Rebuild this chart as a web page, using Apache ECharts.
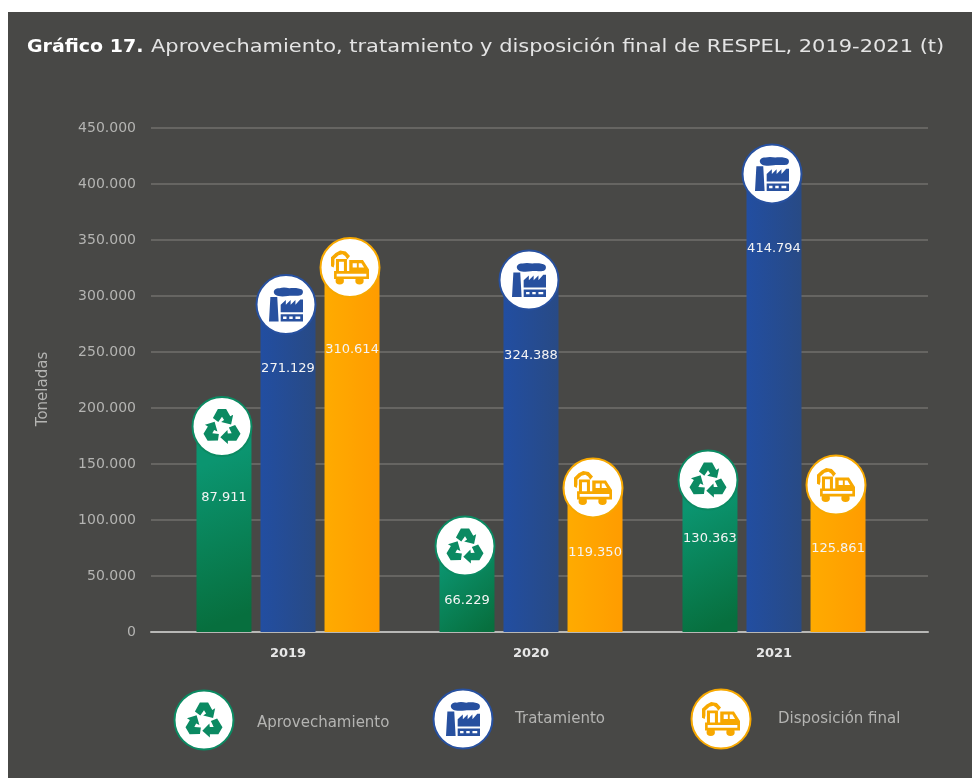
<!DOCTYPE html>
<html>
<head>
<meta charset="utf-8">
<title>RESPEL 2019-2021</title>
<script src="https://cdn.jsdelivr.net/npm/echarts@6/dist/echarts.min.js"></script>
<style>
  html, body { margin: 0; padding: 0; background: #fff; }
  #panel { position: absolute; left: 8px; top: 12px; width: 964px; height: 766px; background: #484846; }
  #main { position: absolute; left: 0; top: 0; width: 972px; height: 778px; }
</style>
</head>
<body>
<div id="panel"></div>
<div id="main"></div>
<script>
const years = ['2019', '2020', '2021']
const yTicks = [0, 50000, 100000, 150000, 200000, 250000, 300000, 350000, 400000, 450000]

// printed values
const aprovechamiento = [87911, 66229, 130363]
const tratamiento = [271129, 324388, 414794]
const disposicion = [310614, 119350, 125861]

// bar heights as drawn in the picture (they do not follow the printed values)
const aprovechamientoDrawn = [183500, 76800, 135700]
const tratamientoDrawn = [292300, 314300, 409000]
const disposicionDrawn = [325400, 128600, 131250]

const fmt = v => String(v).replace(/\B(?=(\d{3})+$)/g, '.')
const FONT = '"DejaVu Sans"'
const GREY = '#b4b4b2'

// icon shapes
function poly(pts) {
  return 'M' + pts.map(p => p[0].toFixed(1) + ' ' + p[1].toFixed(1)).join('L') + 'Z'
}
function rot(pts, deg) {
  const a = deg * Math.PI / 180
  return pts.map(p => [p[0] * Math.cos(a) - p[1] * Math.sin(a), p[0] * Math.sin(a) + p[1] * Math.cos(a)])
}
const arrow = [[-22, -24], [-10, -46], [10, -46], [20, -28], [27, -32], [22, -8], [-2, -14], [5, -19], [0, -27], [-9, -14]]
const recycleIcon = 'path://' + [0, 120, 240].map(d => poly(rot(arrow, d))).join('')
const factoryIcon = 'path://M15 12C15 4 24 0 32 1C40 -2 52 -1 60 1C72 -1 90 0 97 5C102 10 100 20 94 22C80 25 66 22 56 24C44 26 28 26 22 22C18 20 15 16 15 12Z' +
  'M5 27L25 27L29 100L1 100Z' +
  'M35 72L35 50L50 36L50 50L64 36L64 50L78 36L78 50L92 34L100 34L100 72Z' +
  'M35 78L100 78L100 100L35 100ZM42 85L42 92L52 92L52 85ZM60 85L60 92L70 92L70 85ZM78 85L78 92L92 92L92 85Z'
const truckIcon = 'path://M48 28L84 28L100 56L100 62L48 62ZM57 37L57 50L68 50L68 37ZM73 37L73 50L87 50L80 37Z' +
  'M8 60L100 60L100 84L8 84ZM15 68L15 76L93 76L93 68Z' +
  'M12 89A11 11 0 1 1 34 89A11 11 0 1 1 12 89ZM64 89A11 11 0 1 1 86 89A11 11 0 1 1 64 89Z' +
  'M0 20L12 7L24 0L39 3L50 16L43 26L37 16L30 11L20 14L9 25L9 40L7 50L0 46Z' +
  'M13 25L42 25L42 62L34 62L34 33L21 33L21 62L13 62Z'

const seriesDefs = [
  { name: 'Aprovechamiento', drawn: aprovechamientoDrawn, values: aprovechamiento, icon: recycleIcon, iconSize: [37, 35],
    border: '#0b8a62', c1: '#0b9570', c2: '#076f3e', grad: [0, 0.2, 1, 0.9], offset: -64, drops: [71, 55, 59] },
  { name: 'Tratamiento', drawn: tratamientoDrawn, values: tratamiento, icon: factoryIcon, iconSize: [34, 34],
    border: '#27509f', c1: '#224ea1', c2: '#284a85', grad: [0, 0, 1, 0], offset: 0, drops: [64, 76, 75] },
  { name: 'Disposición final', drawn: disposicionDrawn, values: disposicion, icon: truckIcon, iconSize: [38, 34],
    border: '#f7a800', c1: '#ffab00', c2: '#ff9c00', grad: [0, 0, 1, 0], offset: 64, drops: [82, 65, 64] }
]

const series = []
seriesDefs.forEach(d => {
  series.push({
    name: d.name, type: 'bar', xAxisIndex: 1, yAxisIndex: 1,
    barWidth: 55, barGap: '16.4%', z: 2,
    itemStyle: { color: new echarts.graphic.LinearGradient(d.grad[0], d.grad[1], d.grad[2], d.grad[3], [{ offset: 0, color: d.c1 }, { offset: 1, color: d.c2 }]) },
    data: d.drawn.map((v, i) => ({
      value: v,
      label: {
        show: true, position: ['50%', d.drops[i]], align: 'center', verticalAlign: 'middle',
        formatter: fmt(d.values[i]), color: '#f4f4f4', fontFamily: FONT, fontSize: 13
      }
    }))
  })
  series.push({
    type: 'scatter', xAxisIndex: 1, yAxisIndex: 1, z: 3, silent: true,
    symbol: 'circle', symbolSize: 59, symbolOffset: [d.offset - 2, 0],
    itemStyle: { color: '#fff', borderColor: d.border, borderWidth: 2, opacity: 1 },
    data: d.drawn
  })
  series.push({
    type: 'scatter', xAxisIndex: 1, yAxisIndex: 1, z: 4, silent: true,
    symbol: d.icon, symbolSize: d.iconSize, symbolOffset: [d.offset - 2, 0],
    itemStyle: { color: d.border, opacity: 1 },
    data: d.drawn
  })
})

// legend drawn by hand, the icons do not fit the built-in one
const legendSpots = [[204, 720, 257, 723], [463, 719, 515, 719], [721, 719, 778, 719]]
series.push({
  type: 'custom', coordinateSystem: 'none', silent: true, z: 5,
  data: [0, 1, 2],
  renderItem: (params) => {
    const d = seriesDefs[params.dataIndex]
    const s = legendSpots[params.dataIndex]
    return {
      type: 'group',
      children: [
        { type: 'circle', shape: { cx: s[0], cy: s[1], r: 29.5 }, style: { fill: '#fff', stroke: d.border, lineWidth: 2 } },
        {
          type: 'path',
          shape: { pathData: d.icon.replace('path://', ''), layout: 'cover', x: s[0] - d.iconSize[0] / 2, y: s[1] - d.iconSize[1] / 2, width: d.iconSize[0], height: d.iconSize[1] },
          style: { fill: d.border }
        },
        { type: 'text', x: s[2], y: s[3], style: { text: d.name, fill: GREY, font: '15px ' + FONT, verticalAlign: 'middle' } }
      ]
    }
  }
})

// title is stretched to the width of the wide font in the picture
series.push({
  type: 'custom', coordinateSystem: 'none', silent: true, z: 5,
  data: [0],
  renderItem: () => ({
    type: 'group',
    children: [
      { type: 'text', x: 27, y: 47, scaleX: 1.055, style: { text: 'Gráfico 17.', fill: '#fff', font: 'bold 18px ' + FONT, verticalAlign: 'middle' } },
      { type: 'text', x: 151, y: 47, scaleX: 1.164, style: { text: 'Aprovechamiento, tratamiento y disposición final de RESPEL, 2019-2021 (t)', fill: '#e4e4e4', font: '18px ' + FONT, verticalAlign: 'middle' } }
    ]
  })
})

const myChart = echarts.init(document.getElementById('main'))
myChart.setOption({
  animation: false,
  grid: [
    { left: 151, right: 44, top: 128, height: 504 },
    { left: 166.5, right: 76.5, top: 128, height: 504 }
  ],
  xAxis: [
    { gridIndex: 0, type: 'category', data: years, axisLine: { lineStyle: { color: '#b8b8b6', width: 2 } }, axisTick: { show: false }, axisLabel: { show: false } },
    {
      gridIndex: 1, type: 'category', data: years, axisLine: { show: false }, axisTick: { show: false },
      axisLabel: { color: '#e8e8e8', fontFamily: FONT, fontSize: 13, fontWeight: 'bold', margin: 15 }
    }
  ],
  yAxis: [
    {
      gridIndex: 0, type: 'value', min: yTicks[0], max: yTicks[yTicks.length - 1], interval: yTicks[1],
      name: 'Toneladas', nameLocation: 'middle', nameGap: 100, nameRotate: 90,
      nameTextStyle: { color: GREY, fontFamily: FONT, fontSize: 15, padding: [0, 18, 0, 0] },
      axisLine: { show: false }, axisTick: { show: false },
      axisLabel: { color: GREY, fontFamily: FONT, fontSize: 14, margin: 15, formatter: fmt },
      splitLine: { lineStyle: { color: '#706f6d', width: 1.5 } }
    },
    {
      gridIndex: 1, type: 'value', min: yTicks[0], max: yTicks[yTicks.length - 1], interval: yTicks[1],
      axisLine: { show: false }, axisTick: { show: false }, axisLabel: { show: false }, splitLine: { show: false }
    }
  ],
  series: series
})
</script>
</body>
</html>
